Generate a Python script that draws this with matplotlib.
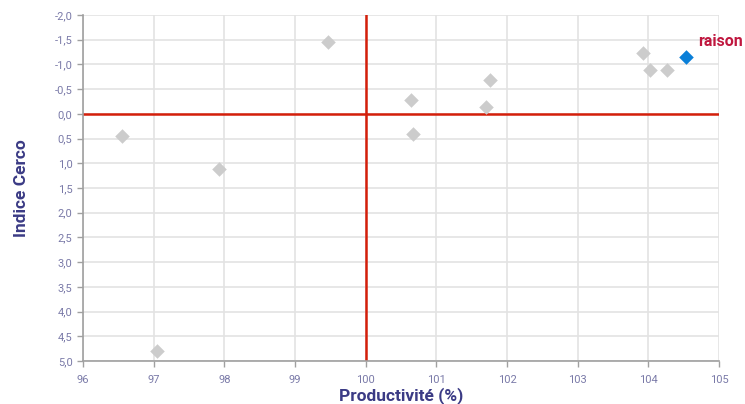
import matplotlib
matplotlib.use("Agg")
import matplotlib.pyplot as plt
from matplotlib.ticker import FuncFormatter, MultipleLocator

plt.rcParams['font.family'] = ['Roboto', 'DejaVu Sans']

prod_gray = [96.55, 97.05, 97.92, 99.47, 100.64, 100.67, 101.71, 101.76, 103.92, 104.03, 104.27]
cerco_gray = [0.45, 4.80, 1.12, -1.45, -0.28, 0.41, -0.14, -0.68, -1.23, -0.89, -0.89]
prod_hl = [104.53]
cerco_hl = [-1.15]
hl_label = "raison"

fig = plt.figure(figsize=(7.45, 4.04), dpi=100)
ax = fig.add_axes([0.1114, 0.1064, 0.8536, 0.8566])

ax.set_xlim(96, 105)
ax.set_ylim(5.0, -2.0)
ax.xaxis.set_major_locator(MultipleLocator(1))
ax.yaxis.set_major_locator(MultipleLocator(0.5))
ax.yaxis.set_major_formatter(FuncFormatter(lambda v, p: f"{v:.1f}".replace('.', ',').replace('-0,0', '0,0')))
ax.xaxis.set_major_formatter(FuncFormatter(lambda v, p: f"{int(round(v))}"))

ax.grid(True, color='#e3e3e3', linewidth=1.2, zorder=0)
ax.set_axisbelow(True)
for s in ['top', 'right']:
    ax.spines[s].set_visible(False)
for s in ['left', 'bottom']:
    ax.spines[s].set_color('#a0a0a0')
    ax.spines[s].set_linewidth(1.2)
ax.tick_params(axis='both', colors='#a0a0a0', labelcolor='#7a7aa8', labelsize=8, length=4, width=1)
ax.tick_params(axis='x', pad=6)

ax.axvline(100, color='#d41f0a', linewidth=1.8, zorder=2)
ax.axhline(0, color='#d41f0a', linewidth=1.8, zorder=2)

ax.scatter(prod_gray, cerco_gray, marker='D', s=55, color='#cccccc', zorder=3, linewidths=0)
ax.scatter(prod_hl, cerco_hl, marker='D', s=55, color='#0a7fd8', zorder=4, linewidths=0)
ax.annotate(hl_label, (prod_hl[0], cerco_hl[0]), xytext=(9, 6), textcoords='offset points',
            color='#c0173f', fontsize=11.5, fontweight='bold', ha='left', va='bottom')

ax.set_xlabel('Productivité (%)', color='#3b3b85', fontsize=12.5, fontweight='bold', va='center')
ax.xaxis.set_label_coords(0.5, -0.101)
ax.set_ylabel('Indice Cerco', color='#3b3b85', fontsize=12.5, fontweight='bold', va='center')
ax.yaxis.set_label_coords(-0.096, 0.5)

fig.savefig('out.png', dpi=100)
